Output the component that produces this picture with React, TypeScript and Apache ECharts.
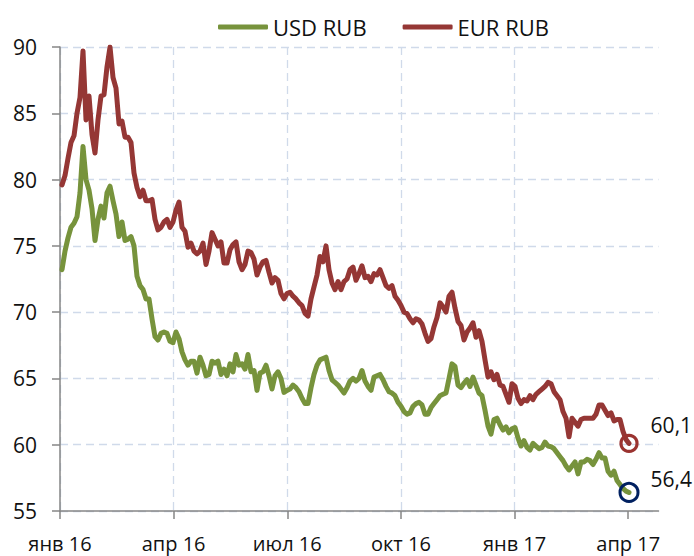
import React, { useEffect, useRef } from "react";
import * as echarts from "echarts";

// Quarter tick labels (x axis counted in months from January 2016)
const QUARTER_LABELS = ["янв 16", "апр 16", "июл 16", "окт 16", "янв 17", "апр 17"];
const QUARTER_MONTHS = [0, 3, 6, 9, 12, 15];

// Sampling of the series along the time axis (months since 1 Jan 2016)
const X_START = 0.0528;
const X_STEP = 0.0792;

const SERIES_NAMES = ["USD RUB", "EUR RUB"];

const EUR_RUB = [
  79.6, 80.3, 81.6, 82.8, 83.3, 85.0, 86.2, 89.7, 84.5, 86.3,
  83.4, 82.0, 84.5, 86.3, 86.4, 88.5, 90.0, 87.7, 86.9, 84.2,
  84.4, 83.2, 83.2, 82.8, 80.5, 79.4, 78.7, 79.2, 78.4, 78.4,
  78.5, 77.0, 76.2, 76.4, 76.8, 77.0, 76.4, 76.8, 77.7, 78.3,
  76.4, 76.1, 74.9, 75.2, 74.6, 74.4, 74.6, 75.2, 73.6, 74.6,
  76.0, 75.5, 75.0, 75.3, 73.7, 73.7, 74.7, 75.1, 75.3, 73.8,
  73.2, 73.6, 74.6, 74.5, 74.0, 72.8, 73.4, 73.8, 73.9, 73.0,
  72.2, 72.6, 72.4, 71.4, 71.0, 71.4, 71.5, 71.2, 71.0, 70.7,
  70.5, 69.9, 69.7, 71.0, 71.9, 72.8, 74.2, 73.8, 75.0, 73.2,
  72.2, 71.7, 72.3, 71.7, 72.3, 72.5, 73.2, 73.4, 72.4, 72.9,
  73.5, 72.6, 72.7, 72.3, 72.9, 72.8, 73.2, 72.6, 72.0, 71.8,
  72.0, 71.2, 70.9, 70.5, 70.0, 69.9, 69.5, 69.2, 69.5, 69.4,
  69.1, 68.4, 67.8, 68.0, 68.9, 69.6, 70.7, 70.4, 70.0, 71.2,
  71.5, 70.3, 69.3, 69.0, 67.9, 68.5, 68.8, 69.2, 68.1, 68.6,
  67.8, 66.4, 65.1, 65.5, 64.9, 65.3, 64.5, 64.4, 63.8, 63.2,
  64.6, 64.4, 63.5, 63.1, 63.4, 63.3, 63.7, 63.4, 63.8, 64.0,
  64.2, 64.4, 64.7, 64.6, 64.0, 63.7, 63.4, 62.5, 62.0, 60.6,
  62.0, 61.7, 61.4, 61.9, 62.0, 62.0, 62.0, 62.0, 62.3, 63.0,
  63.0, 62.6, 62.2, 62.4, 61.8, 61.9, 61.9, 61.0, 60.4, 60.1,
];

const USD_RUB = [
  73.2, 74.6, 75.6, 76.4, 76.7, 77.2, 79.0, 82.5, 80.0, 79.2,
  77.8, 75.4, 77.0, 78.0, 77.1, 79.0, 79.5, 78.4, 77.4, 75.7,
  76.8, 75.4, 75.5, 75.7, 75.0, 72.7, 72.0, 71.7, 71.0, 71.0,
  69.5, 68.15, 67.9, 68.4, 68.5, 68.4, 67.8, 67.7, 68.5, 68.0,
  67.0, 66.4, 66.0, 66.3, 66.3, 65.4, 66.6, 66.0, 65.2, 65.3,
  66.3, 66.15, 66.3, 65.3, 65.7, 65.2, 66.1, 65.5, 66.8, 66.0,
  66.1, 65.7, 66.8, 65.5, 65.6, 64.1, 65.4, 65.5, 66.0, 65.2,
  64.2, 65.2, 65.5, 65.0, 63.95, 64.1, 64.2, 64.5, 64.3, 64.0,
  63.5, 63.1, 63.1, 64.3, 65.3, 66.0, 66.4, 66.5, 66.6, 65.6,
  64.9, 64.7, 64.5, 64.2, 63.9, 64.3, 64.8, 65.0, 64.8, 65.0,
  65.6, 64.8, 64.4, 64.1, 65.1, 65.2, 65.3, 64.9, 64.4, 64.0,
  63.9, 63.7, 63.2, 62.9, 62.5, 62.3, 62.4, 62.9, 63.1, 63.2,
  63.0, 62.3, 62.3, 62.8, 63.1, 63.4, 63.7, 63.8, 63.9, 65.0,
  66.1, 65.9, 64.5, 64.3, 64.65, 64.9, 64.4, 65.1, 64.5, 63.9,
  63.7, 62.6, 61.4, 60.8, 61.9, 62.0, 61.5, 61.1, 61.35, 60.9,
  61.2, 61.3, 60.5, 59.9, 60.3, 59.8, 59.6, 60.1, 59.9, 59.7,
  59.8, 60.2, 59.9, 59.85, 59.7, 59.4, 59.1, 58.8, 58.4, 58.1,
  58.4, 58.7, 57.8, 58.7, 58.7, 58.9, 58.8, 58.5, 58.9, 59.4,
  59.0, 59.0, 58.0, 57.7, 58.0, 57.3, 57.0, 56.7, 56.5, 56.4,
];

const Y_MIN = 55;
const Y_MAX = 90;
const Y_STEP = 5;
const X_MAX = 15.8;

const FONT = "'Open Sans', 'DejaVu Sans', sans-serif";
const GREEN = "#77933C";
const RED = "#953735";
const RED_RING = "#9A3330";
const NAVY = "#002060";

const toPairs = (vals: number[]) => vals.map((v, i) => [X_START + X_STEP * i, v]);
const fmt = (v: number) => v.toFixed(1).replace(".", ",");

export default function App() {
  const ref = useRef<HTMLDivElement>(null);

  useEffect(() => {
    if (!ref.current) return;
    const chart = echarts.init(ref.current, undefined, { renderer: "svg" });
    const eur = toPairs(EUR_RUB);
    const usd = toPairs(USD_RUB);
    const eurLast = eur[eur.length - 1];
    const usdLast = usd[usd.length - 1];

    const endLabel = (dy: number, dist: number) => ({
      show: true,
      position: "right",
      distance: dist,
      offset: [0, dy],
      fontFamily: FONT,
      fontSize: 21,
      color: "#111",
      opacity: 1,
      formatter: (p: any) => fmt(p.value[1]),
    });

    chart.setOption({
      animation: false,
      backgroundColor: "#ffffff",
      textStyle: { fontFamily: FONT },
      grid: { left: 60, right: 35.5, top: 47, bottom: 45 },
      legend: {
        data: SERIES_NAMES,
        left: 213,
        top: 11,
        itemWidth: 50,
        itemHeight: 5,
        itemGap: 36,
        icon: "roundRect",
        selectedMode: false,
        textStyle: { fontFamily: FONT, fontSize: 22, color: "#111" },
      },
      xAxis: {
        type: "value",
        min: 0,
        max: X_MAX,
        interval: 3,
        axisLine: { show: true, lineStyle: { color: "#868686", width: 1.5 } },
        axisTick: {
          show: true,
          inside: false,
          length: 8,
          customValues: QUARTER_MONTHS,
          lineStyle: { color: "#868686", width: 1.5 },
        },
        axisLabel: {
          customValues: QUARTER_MONTHS,
          margin: 22,
          fontFamily: FONT,
          fontSize: 20,
          color: "#111",
          formatter: (v: number) => QUARTER_LABELS[Math.round(v / 3)] ?? "",
        },
        splitLine: {
          show: true,
          showMaxLine: false,
          lineStyle: { color: "#D0DAEA", width: 1.3, type: [8, 5] },
        },
      },
      yAxis: {
        type: "value",
        min: Y_MIN,
        max: Y_MAX,
        interval: Y_STEP,
        axisLine: { show: true, lineStyle: { color: "#868686", width: 1.5 } },
        axisTick: { show: true, inside: false, length: 8, lineStyle: { color: "#868686", width: 1.5 } },
        axisLabel: { margin: 23, fontFamily: FONT, fontSize: 21, color: "#111" },
        splitLine: {
          show: true,
          lineStyle: { color: "#D0DAEA", width: 1.3, type: [8, 5] },
        },
      },
      series: [
        {
          name: SERIES_NAMES[0],
          type: "line",
          data: usd,
          showSymbol: false,
          symbol: "none",
          color: GREEN,
          lineStyle: { color: GREEN, width: 5, join: "round", cap: "round" },
          z: 2,
        },
        {
          name: SERIES_NAMES[1],
          type: "line",
          data: eur,
          showSymbol: false,
          symbol: "none",
          color: RED,
          lineStyle: { color: RED, width: 5, join: "round", cap: "round" },
          z: 3,
        },
        {
          name: "eurEnd",
          type: "scatter",
          data: [eurLast],
          symbol: "circle",
          symbolSize: 16,
          itemStyle: { color: "rgba(255,255,255,0)", borderColor: RED_RING, borderWidth: 3.2, opacity: 1 },
          label: endLabel(-18, 12),
          z: 5,
        },
        {
          name: "usdEnd",
          type: "scatter",
          data: [usdLast],
          symbol: "circle",
          symbolSize: 18,
          itemStyle: { color: "rgba(255,255,255,0)", borderColor: NAVY, borderWidth: 3, opacity: 1 },
          label: endLabel(-13, 11),
          z: 5,
        },
      ],
    });

    return () => chart.dispose();
  }, []);

  return (
    <div
      ref={ref}
      style={{ position: "absolute", left: 0, top: 0, width: 694, height: 556 }}
    />
  );
}
